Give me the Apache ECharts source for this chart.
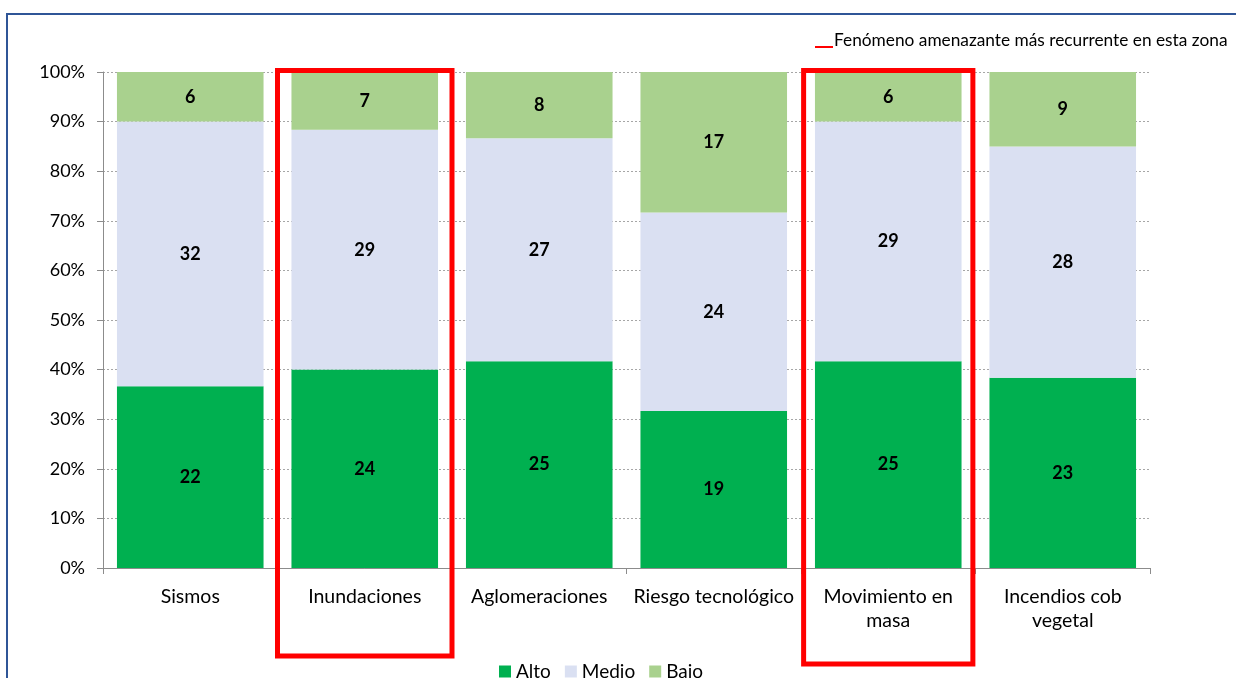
<!DOCTYPE html>
<html><head><meta charset="utf-8">
<script src="https://cdn.jsdelivr.net/npm/echarts@6/dist/echarts.min.js"></script>
<style>html,body{margin:0;padding:0;background:#fff}#c{width:1236px;height:678px}</style>
</head><body><div id="c"></div>
<script>
const categories = ['Sismos', 'Inundaciones', 'Aglomeraciones', 'Riesgo tecnológico', 'Movimiento en\nmasa', 'Incendios cob\nvegetal'];
const alto  = [22, 24, 25, 19, 25, 23];
const medio = [32, 29, 27, 24, 29, 28];
const bajo  = [6, 7, 8, 17, 6, 9];
const highlighted = [1, 4];
const yTicks = [0, 10, 20, 30, 40, 50, 60, 70, 80, 90, 100];
const noteText = 'Fenómeno amenazante más recurrente en esta zona';

const totals = alto.map((v, i) => v + medio[i] + bajo[i]);
const pct = arr => arr.map((v, i) => ({ value: v / totals[i] * 100, raw: v }));

const FONT = 'Lato, "Open Sans", sans-serif';
const chart = echarts.init(document.getElementById('c'), null, { renderer: 'canvas' });

const lbl = {
  show: true, position: 'inside', color: '#000', fontWeight: 'bold', fontSize: 18, fontFamily: FONT,
  formatter: p => p.data.raw
};

chart.setOption({
  animation: false,
  textStyle: { fontFamily: FONT },
  grid: { left: 103, right: 86, top: 72, bottom: 110, containLabel: false },
  legend: {
    data: ['Alto', 'Medio', 'Bajo'], bottom: -8, left: 494,
    itemWidth: 12, itemHeight: 12, itemGap: 14, icon: 'rect',
    textStyle: { fontSize: 19, color: '#000', fontFamily: FONT }
  },
  xAxis: {
    type: 'category', data: categories,
    axisLine: { lineStyle: { color: '#8c8c8c', width: 1 } },
    axisTick: { show: true, length: 6, alignWithLabel: false, lineStyle: { color: '#8c8c8c' } },
    axisLabel: { color: '#000', fontSize: 19.5, margin: 17, lineHeight: 24, interval: 0, fontFamily: FONT }
  },
  yAxis: {
    type: 'value', min: 0, max: 100, interval: 10,
    axisLine: { show: true, lineStyle: { color: '#8c8c8c' } },
    axisTick: { show: true, length: 6, lineStyle: { color: '#8c8c8c' } },
    axisLabel: { color: '#000', fontSize: 18, margin: 18, formatter: v => v + '%', fontFamily: FONT },
    splitLine: { show: true, lineStyle: { color: '#a6a6a6', type: [2, 2], width: 1 } }
  },
  series: [
    { name: 'Alto', type: 'bar', stack: 's', data: pct(alto), itemStyle: { color: '#00B050' }, label: lbl, barCategoryGap: '16%' },
    { name: 'Medio', type: 'bar', stack: 's', data: pct(medio), itemStyle: { color: '#DAE0F2' }, label: lbl },
    { name: 'Bajo', type: 'bar', stack: 's', data: pct(bajo), itemStyle: { color: '#A9D18E' }, label: lbl }
  ]
});

function drawAnnotations() {
  const p0 = chart.convertToPixel({ xAxisIndex: 0 }, 0);
  const p1 = chart.convertToPixel({ xAxisIndex: 0 }, 1);
  const band = p1 - p0;
  const yTop = chart.convertToPixel({ yAxisIndex: 0 }, 100);
  const bottoms = [656, 664];
  const rects = highlighted.map((ci, k) => {
    const cx = chart.convertToPixel({ xAxisIndex: 0 }, ci);
    const w = band * (k === 0 ? 1.0 : 0.97);
    return {
      type: 'rect', z: 100,
      shape: { x: cx - w / 2, y: yTop - 1.5, width: w, height: bottoms[k] - (yTop - 1.5) },
      style: { fill: 'none', stroke: '#FF0000', lineWidth: 5 }
    };
  });
  chart.setOption({
    graphic: [
      { type: 'rect', z: 90, shape: { x: 7, y: 14, width: 1260, height: 700 }, style: { fill: 'none', stroke: '#2F5597', lineWidth: 2 } },
      ...rects,
      { type: 'line', z: 100, shape: { x1: 815, y1: 47, x2: 833, y2: 47 }, style: { stroke: '#FF0000', lineWidth: 2 } },
      { type: 'text', z: 100, x: 834, y: 40, style: { text: noteText, fill: '#000', font: '17.3px ' + FONT, textVerticalAlign: 'middle', verticalAlign: 'middle' } }
    ]
  });
}
drawAnnotations();
</script>
</body></html>
